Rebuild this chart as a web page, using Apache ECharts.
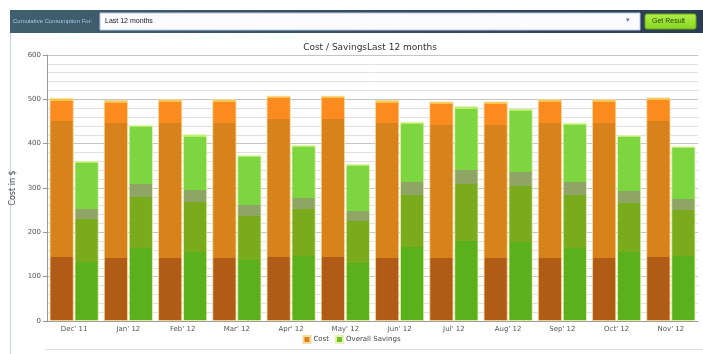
<!DOCTYPE html>
<html>
<head>
<meta charset="utf-8">
<script src="https://cdn.jsdelivr.net/npm/echarts@6/dist/echarts.min.js"></script>
<style>
html,body{margin:0;padding:0;background:#fff;}
#c{width:703px;height:354px;}
</style>
</head>
<body>
<div id="c"></div>
<script>
var categories = ["Dec' 11","Jan' 12","Feb' 12","Mar' 12","Apr' 12","May' 12","Jun' 12","Jul' 12","Aug' 12","Sep' 12","Oct' 12","Nov' 12"];
var costValues = [503, 498, 500, 500, 508, 508, 498, 495, 495, 500, 500, 504];
var savingsValues = [361, 442, 421, 374, 397, 354, 449, 485, 479, 447, 419, 394];
var yTicks = [0, 100, 200, 300, 400, 500, 600];
var titleText = "Cost / SavingsLast 12 months";
var seriesNames = ["Cost", "Overall Savings"];

var FONT = "DejaVu Sans";
function hard(stops){
  var cs = [];
  for (var i=0;i<stops.length;i++){
    var s = stops[i];
    cs.push({offset:s[0], color:s[2]});
    cs.push({offset:s[1], color:s[2]});
  }
  return {type:'linear', x:0, y:0, x2:0, y2:1, colorStops:cs};
}
var costGrad = hard([[0,0.012,'#f7c44a'],[0.012,0.105,'#fb8a1f'],[0.105,0.715,'#d7821b'],[0.715,1,'#b05c17']]);
var savGrad = hard([[0,0.012,'#b5ef6a'],[0.012,0.30,'#7dd63f'],[0.30,0.365,'#8ea565'],[0.365,0.63,'#79ab1c'],[0.63,1,'#5bb11c']]);

var chart = echarts.init(document.getElementById('c'), null, {renderer:'canvas'});
chart.setOption({
  animation:false,
  backgroundColor:'#ffffff',
  title:{text:titleText, left:365, top:38, textAlign:'center',
    textStyle:{fontFamily:FONT, fontSize:9, fontWeight:'normal', color:'#333'}},
  graphic:[
    {type:'rect', shape:{x:10,y:10,width:693,height:23}, style:{fill:{type:'linear',x:0,y:0,x2:1,y2:0,colorStops:[{offset:0,color:'#40606f'},{offset:1,color:'#2c3d52'}]}}},
    {type:'rect', shape:{x:100,y:13,width:540,height:17}, style:{fill:'#fbfbff', stroke:'#b8c8e8', lineWidth:1}},
    {type:'text', x:13, y:18, style:{text:'Cumulative Consumption For:', fill:'#a9cbe6', font:'6px "Liberation Sans"'}},
    {type:'text', x:105, y:18, style:{text:'Last 12 months', fill:'#222', font:'7px "Liberation Sans"'}},
    {type:'text', x:626, y:17, style:{text:'▾', fill:'#5577aa', font:'7px "DejaVu Sans"'}},
    {type:'rect', shape:{x:645,y:14,width:51,height:15, r:2}, style:{fill:{type:'linear',x:0,y:0,x2:0,y2:1,colorStops:[{offset:0,color:'#b4f04a'},{offset:1,color:'#86d41e'}]}, stroke:'#6aa81a', lineWidth:1}},
    {type:'text', x:652, y:18, style:{text:'Get Result', fill:'#234a10', font:'7px "Liberation Sans"'}},
    {type:'line', shape:{x1:10.5,y1:33,x2:10.5,y2:354}, style:{stroke:'#c5d3ea', lineWidth:1}},
    {type:'line', shape:{x1:45,y1:349.5,x2:703,y2:349.5}, style:{stroke:'#dddddd', lineWidth:1}}
  ],
  legend:{
    data:[{name:seriesNames[0], itemStyle:{color:'#e0801c'}},{name:seriesNames[1], itemStyle:{color:'#6cc02a'}}],
    left:'center', bottom:5, itemWidth:7, itemHeight:7, itemGap:6, icon:'rect',
    textStyle:{fontFamily:FONT, fontSize:7, color:'#444', padding:[0,0,0,-2]}
  },
  grid:{left:47, right:5, top:55, bottom:33, containLabel:false},
  xAxis:{
    type:'category', data:categories,
    axisLine:{lineStyle:{color:'#999'}},
    axisTick:{show:false},
    axisLabel:{fontFamily:FONT, fontSize:7, color:'#555', margin:5}
  },
  yAxis:{
    type:'value', min:yTicks[0], max:yTicks[yTicks.length-1], interval:100,
    name:'Cost in $', nameLocation:'middle', nameGap:21, nameRotate:90,
    nameTextStyle:{fontFamily:FONT, fontSize:8, color:'#444'},
    axisLine:{show:true, lineStyle:{color:'#999'}},
    axisTick:{show:true, length:4, lineStyle:{color:'#999'}},
    axisLabel:{fontFamily:FONT, fontSize:7, color:'#555', margin:6},
    splitLine:{show:true, lineStyle:{color:'#c4c4c4', width:1}},
    minorTick:{show:false, splitNumber:5},
    minorSplitLine:{show:true, lineStyle:{color:'#e0e0e0', width:1}}
  },
  series:[
    {name:seriesNames[0], type:'bar', data:costValues, barWidth:24, barGap:'4%',
      itemStyle:{color:costGrad, borderColor:'#f2dc9a', borderWidth:0.8}},
    {name:seriesNames[1], type:'bar', data:savingsValues, barWidth:24,
      itemStyle:{color:savGrad, borderColor:'#e8f0b0', borderWidth:0.8}}
  ]
});
</script>
</body>
</html>
